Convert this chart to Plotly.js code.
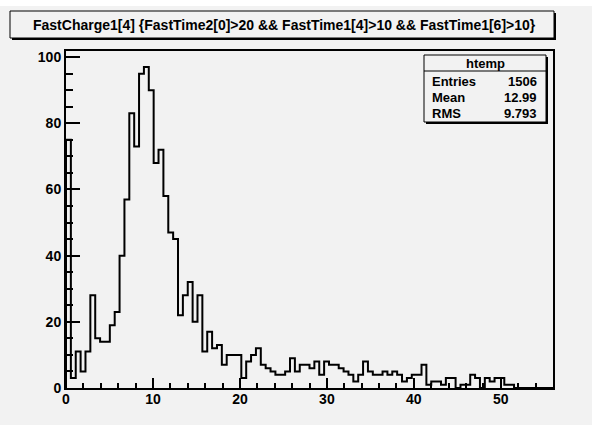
<!DOCTYPE html>
<html>
<head>
<meta charset="utf-8">
<script src="https://cdn.plot.ly/plotly-3.0.1.min.js"></script>
<style>
  html, body { margin: 0; padding: 0; background: #ffffff; }
  #bg { position: absolute; left: 0; top: 6px; width: 592px; height: 419px; background: #f2f2f2; }
  #chart { position: absolute; left: 0; top: 0; width: 607px; height: 425px; }
</style>
</head>
<body>
<div id="bg"></div>
<div id="chart"></div>
<script>
// ---- data ----
const histName = "htemp";
const titleText = "FastCharge1[4] {FastTime2[0]>20 && FastTime1[4]>10 && FastTime1[6]>10}";
const xMin = 0;
const binWidth = 0.56;
const counts = [
  75, 3, 11, 5, 11, 28, 15, 14, 14, 19,
  23, 40, 57, 83, 73, 95, 97, 90, 68, 72,
  58, 47, 45, 22, 28, 32, 20, 28, 11, 17,
  12, 13, 7, 10, 10, 10, 3, 8, 10, 12,
  7, 6, 5, 4, 4, 5, 9, 5, 7, 7,
  6, 8, 4, 8, 7, 7, 6, 5, 4, 2,
  4, 8, 5, 4, 4, 5, 4, 5, 4, 2,
  3, 4, 4, 7, 1, 2, 2, 1, 3, 3,
  0, 1, 1, 4, 3, 0, 3, 2, 3, 3,
  1, 1, 0, 0, 0, 0, 0, 0, 0, 0
];
const statLabels = ["Entries", "Mean", "RMS"];
const statValues = ["1506", "12.99", "9.793"];
const xTickVals = [0, 10, 20, 30, 40, 50];
const yTickVals = [0, 20, 40, 60, 80, 100];

// ---- build step outline ----
const nBins = counts.length;
const xMax = xMin + nBins * binWidth;
const xs = [xMin], ys = [0];
for (let i = 0; i < nBins; i++) { xs.push(xMin + i * binWidth); ys.push(counts[i]); }
xs.push(xMax); ys.push(0);
const yMax = Math.max(...counts) * 1.05;

// ---- layout helpers (pixel -> paper) ----
const W = 607, H = 425;
const L = 66, R = 553, T = 51, B = 388;
const px = x => (x - L) / (R - L);
const py = y => (B - y) / (B - T);

const FONT = "Liberation Sans, Arial, Helvetica, sans-serif";
const shapes = [];
const annotations = [];

function box(x0, y0, x1, y1, fill) {
  shapes.push({type: 'rect', xref: 'paper', yref: 'paper', x0: px(x0 + 2), x1: px(x1 + 2), y0: py(y1 + 2), y1: py(y0 + 2),
    line: {width: 0}, fillcolor: '#000000', layer: 'above'});
  shapes.push({type: 'rect', xref: 'paper', yref: 'paper', x0: px(x0), x1: px(x1), y0: py(y1), y1: py(y0),
    line: {width: 1, color: '#000000'}, fillcolor: fill, layer: 'above'});
}

// title box
box(10, 11, 554, 38, '#f2f2f2');
annotations.push({xref: 'paper', yref: 'paper', x: px(284), y: py(25), text: titleText, showarrow: false,
  xanchor: 'center', yanchor: 'middle', font: {family: FONT, size: 14, color: '#000', weight: 700}});

// stats box
box(424, 55, 546, 122, '#f2f2f2');
shapes.push({type: 'line', xref: 'paper', yref: 'paper', x0: px(424), x1: px(546), y0: py(71), y1: py(71),
  line: {width: 1, color: '#000'}, layer: 'above'});
annotations.push({xref: 'paper', yref: 'paper', x: px(485), y: py(63), text: histName, showarrow: false,
  xanchor: 'center', yanchor: 'middle', font: {family: FONT, size: 13, color: '#000', weight: 700}});
const rowY = [82, 97, 113];
statLabels.forEach((lab, i) => {
  annotations.push({xref: 'paper', yref: 'paper', x: px(430), y: py(rowY[i]), text: lab, showarrow: false,
    xanchor: 'left', yanchor: 'middle', font: {family: FONT, size: 13, color: '#000', weight: 700}});
  annotations.push({xref: 'paper', yref: 'paper', x: px(539), y: py(rowY[i]), text: statValues[i], showarrow: false,
    xanchor: 'right', yanchor: 'middle', font: {family: FONT, size: 13, color: '#000', weight: 700}});
});

const trace = {
  type: 'scatter', mode: 'lines', x: xs, y: ys,
  line: {shape: 'hv', color: '#000000', width: 2},
  hoverinfo: 'skip', showlegend: false
};

const layout = {
  width: W, height: H,
  margin: {l: L, r: W - R, t: T, b: H - B, pad: 0},
  paper_bgcolor: 'rgba(0,0,0,0)',
  plot_bgcolor: '#f2f2f2',
  showlegend: false,
  xaxis: {
    range: [xMin, xMax], tickvals: xTickVals, ticktext: xTickVals.map(String),
    ticks: 'inside', ticklen: 10, tickwidth: 2, tickcolor: '#000',
    minor: {dtick: 2, ticks: 'inside', ticklen: 5, tickwidth: 2, tickcolor: '#000'},
    showline: true, linecolor: '#000', linewidth: 2, mirror: true,
    showgrid: false, zeroline: false, ticklabelstandoff: -3,
    tickfont: {family: FONT, size: 14, color: '#000', weight: 700}
  },
  yaxis: {
    range: [0, yMax], tickvals: yTickVals, ticktext: yTickVals.map(String),
    ticks: 'inside', ticklen: 14, tickwidth: 2, tickcolor: '#000',
    minor: {dtick: 5, ticks: 'inside', ticklen: 7, tickwidth: 2, tickcolor: '#000'},
    showline: true, linecolor: '#000', linewidth: 2, mirror: true,
    showgrid: false, zeroline: false,
    tickfont: {family: FONT, size: 14, color: '#000', weight: 700}
  },
  shapes: shapes,
  annotations: annotations
};

Plotly.newPlot('chart', [trace], layout, {displayModeBar: false, staticPlot: true});
</script>
</body>
</html>
